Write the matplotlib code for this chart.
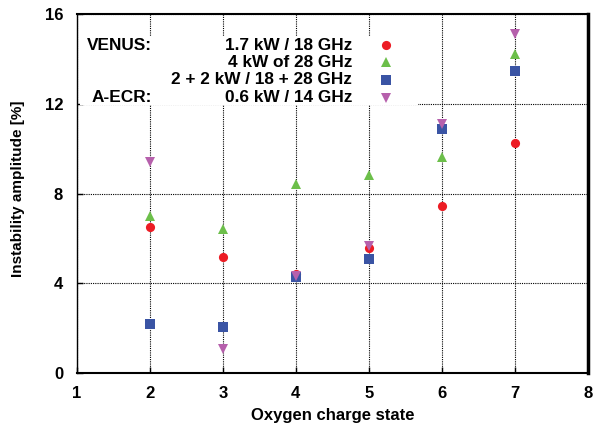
import matplotlib
matplotlib.use("Agg")
import matplotlib.pyplot as plt
from matplotlib.patches import Rectangle

plt.rcParams['font.family'] = ['Liberation Sans', 'DejaVu Sans']
plt.rcParams['font.weight'] = 'bold'

charge_states = [2, 3, 4, 5, 6, 7]
venus_18 = [6.5, 5.17, 4.43, 5.57, 7.47, 10.27]
venus_28 = [7.02, 6.43, 8.43, 8.83, 9.62, 14.2]
venus_18_28 = [2.18, 2.07, 4.28, 5.07, 10.87, 13.47]
aecr_14 = [9.39, 1.07, 4.35, 5.69, 11.12, 15.12]

labels = ["1.7 kW / 18 GHz", "4 kW of 28 GHz", "2 + 2 kW / 18 + 28 GHz", "0.6 kW / 14 GHz"]
group_labels = ["VENUS:", "A-ECR:"]
xticks = [1, 2, 3, 4, 5, 6, 7, 8]
yticks = [0, 4, 8, 12, 16]

styles = [
    dict(marker='o', color='#ec1c24', markersize=6.6),
    dict(marker='^', color='#6cbf4a', markersize=7.0),
    dict(marker='s', color='#3a54a4', markersize=6.6),
    dict(marker='v', color='#b660ac', markersize=7.0),
]
series = [venus_18, venus_28, venus_18_28, aecr_14]

fig = plt.figure(figsize=(5.94, 4.30), dpi=100)
ax = fig.add_axes([77/594, 1-373.3/430, 510.7/594, 359.3/430])

ax.set_xlim(1, 8)
ax.set_ylim(0, 16)
ax.set_xticks(xticks)
ax.set_yticks(yticks)
ax.set_axisbelow(True)
ax.grid(True, color='black', linestyle=(0, (1, 1)), linewidth=0.8)
ax.tick_params(direction='in', length=4, width=1, labelsize=12, pad=10)
ax.tick_params(axis='x', pad=9)
for lab in ax.get_xticklabels() + ax.get_yticklabels():
    lab.set_fontweight('bold')

ax.spines['left'].set_linewidth(1.0)
ax.spines['bottom'].set_linewidth(1.5)
ax.spines['top'].set_linewidth(1.5)
ax.spines['right'].set_linewidth(2.5)

ax.set_xlabel("Oxygen charge state", fontsize=12, fontweight='bold', labelpad=5)
ax.set_ylabel("Instability amplitude [%]", fontsize=11, fontweight='bold')
ax.yaxis.set_label_coords(-(77-25)/510.7, (373.3-189)/359.3)

# white legend box hiding the grid
x0 = (80-77)/510.7
x1 = (418-77)/510.7
y0 = (373.3-105)/359.3
y1 = (373.3-36)/359.3
ax.add_patch(Rectangle((x0, y0), x1-x0, y1-y0, transform=ax.transAxes,
                       facecolor='white', edgecolor='none', zorder=1))

for vals, st in zip(series, styles):
    ax.plot(charge_states, vals, linestyle='none', markeredgewidth=0,
            zorder=3, clip_on=False, **st)

row_y = [(373.3-p)/359.3 for p in (45, 62.3, 80, 97.7)]
text_right = (352-77)/510.7
marker_x = (386-77)/510.7
group_right = (152-77)/510.7
for yy, lab, st in zip(row_y, labels, styles):
    ax.text(text_right, yy, lab, transform=ax.transAxes, ha='right', va='center',
            fontsize=12.4, fontweight='bold', zorder=4)
    ax.plot([marker_x], [yy], transform=ax.transAxes, linestyle='none',
            markeredgewidth=0, zorder=4, clip_on=False, **st)
ax.text(group_right, row_y[0], group_labels[0], transform=ax.transAxes, ha='right',
        va='center', fontsize=12.4, fontweight='bold', zorder=4)
ax.text(group_right, row_y[3], group_labels[1], transform=ax.transAxes, ha='right',
        va='center', fontsize=12.4, fontweight='bold', zorder=4)

fig.savefig("out.png", dpi=100)
